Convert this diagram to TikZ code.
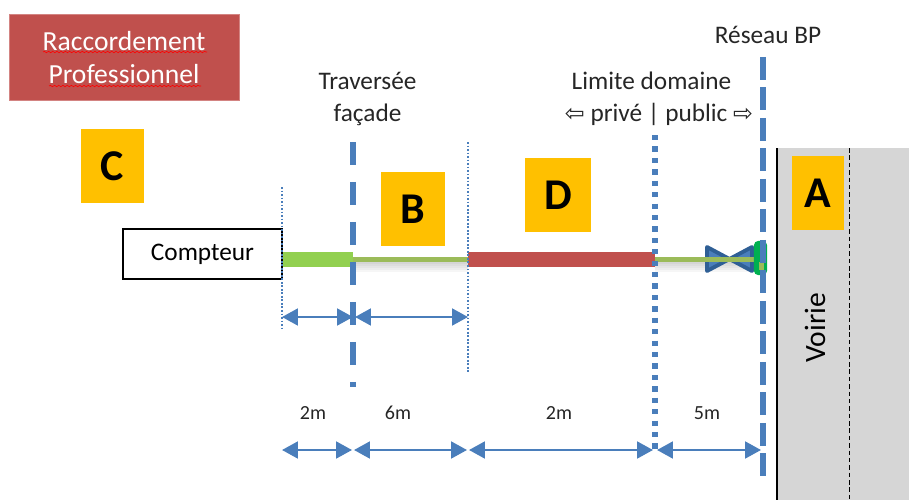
\documentclass[tikz,border=0pt]{standalone}
\usepackage{fontspec}
\setmainfont{Carlito}
\newfontfamily\symfont{DejaVu Sans}
\usetikzlibrary{arrows.meta}
\usetikzlibrary{decorations.pathmorphing}
\definecolor{tagYellow}{HTML}{FFC000}
\definecolor{lineBlue}{HTML}{4A7EBB}
\definecolor{barRed}{HTML}{C0504D}
\definecolor{barGreen}{HTML}{92D050}
\definecolor{barOlive}{HTML}{9BBB59}
\definecolor{roadGray}{HTML}{D6D6D6}
\definecolor{valveBlue}{HTML}{2F5F95}
\definecolor{joinGreen}{HTML}{00B050}
\tikzset
  {
    tagBox/.style={fill=tagYellow, font=\fontsize{25}{25}\selectfont\bfseries, inner sep=0pt, anchor=center},
    myLabel/.style={font=\fontsize{14.4}{17.8}\selectfont, align=center, text=black!85, inner sep=0pt},
    mySmall/.style={font=\fontsize{11.4}{13}\selectfont, text=black!85, inner sep=0pt},
    dimArrow/.style={lineBlue, line width=1.4pt, {Triangle[length=9pt,width=9.5pt]}-{Triangle[length=9pt,width=9.5pt]}},
    thinDots/.style={lineBlue, line width=0.7pt, dash pattern=on 1pt off 1pt},
    spellMark/.style={red, line width=0.35pt, decorate, decoration={snake,amplitude=0.4pt,segment length=2.4pt}}
  }

\begin{document}
\begin{tikzpicture}[x=0.02cm, y=-0.02cm]

\useasboundingbox (0,0) rectangle (909,500);

% road
\fill[roadGray] (778,148) rectangle (909,500);
\coordinate (roadA) at (777,148);
\coordinate (roadB) at (777,500);
\coordinate (edgeA) at (849,148);
\coordinate (edgeB) at (849,500);
\draw[black, line width=1.5pt] (roadA)--(roadB);
\draw[black, line width=0.4pt, dash pattern=on 2.6pt off 1.6pt] (edgeA)--(edgeB);
\node[font=\fontsize{16.8}{17}\selectfont, rotate=90, inner sep=0pt] (voirie) at (815,328) {Voirie};

% title
\node[fill=barRed, draw=barRed!70!white, line width=0.5pt, minimum width=130.9pt, minimum height=48.9pt, inner sep=0pt] (titre) at (124,57) {};
\node[font=\fontsize{15.7}{18.8}\selectfont, text=white, align=center, inner sep=0pt] (titreTxt) at (124,57.5) {Raccordement\\Professionnel};
\coordinate (markA) at (43,52);
\coordinate (markB) at (207,52);
\coordinate (markC) at (49,86);
\coordinate (markD) at (201,86);
\draw[spellMark] (markA)--(markB);
\draw[spellMark] (markC)--(markD);

% letters
\node[tagBox, minimum width=35.8pt, minimum height=42.1pt] (tagC) at (112.5,166) {C};
\node[tagBox, minimum width=36.4pt, minimum height=42.1pt] (tagB) at (413,209) {B};
\node[tagBox, minimum width=37.6pt, minimum height=42.1pt] (tagD) at (558,195) {D};
\node[tagBox, minimum width=29.6pt, minimum height=42.1pt] (tagA) at (818,193) {A};

% upper labels
\node[myLabel] (traversee) at (367.5,99) {Traversée\\façade};
\node[myLabel] (limiteHaut) at (651.5,81) {Limite domaine};
\node[myLabel] (limiteBas) at (659,114) {{\symfont\fontsize{13.5}{18}\selectfont ⇦} privé | public {\symfont\fontsize{13.5}{18}\selectfont ⇨}};
\node[myLabel] (reseau) at (768,35) {Réseau BP};

% shadow under the thin pipes
\foreach \x in {0,...,4}
{
\fill[black, opacity=0.035] (353,262) rectangle (468,272-2*\x);
\fill[black, opacity=0.035] (655,262) rectangle (757,272-2*\x);
}

% pipes
\fill[barGreen] (282,252) rectangle (353,267);
\fill[barOlive] (353,257) rectangle (468,262);
\fill[barRed] (468,252) rectangle (655,267);

\node[draw=black, line width=1.2pt, fill=white, minimum width=90.5pt, minimum height=28.5pt, inner sep=0pt, font=\fontsize{14.4}{17}\selectfont] (compteur) at (202.5,254) {Compteur};

% valve
\filldraw[fill=lineBlue, draw=valveBlue, line width=2.2pt, line join=round] (707,247)--(752,271)--(752,247)--(707,271)--cycle;
\fill[barOlive] (655,257) rectangle (755,262);

% connection
\node[fill=joinGreen, rounded corners=2.5pt, minimum width=7.5pt, minimum height=19.5pt, inner sep=0pt] (branchement) at (760.5,258) {};

% vertical lines
\coordinate (compteurA) at (282,187);
\coordinate (compteurB) at (282,329);
\coordinate (mur2A) at (468,142);
\coordinate (mur2B) at (468,373);
\coordinate (facadeA) at (353,142);
\coordinate (facadeB) at (353,387);
\coordinate (limiteA) at (655,135);
\coordinate (limiteB) at (655,449);
\coordinate (bpA) at (763,57);
\coordinate (bpB) at (763,476);
\draw[thinDots] (compteurA)--(compteurB);
\draw[thinDots] (mur2A)--(mur2B);
\draw[lineBlue, line width=3.2pt, dash pattern=on 13.1pt off 9.66pt] (facadeA)--(facadeB);
\draw[lineBlue, line width=3pt, dash pattern=on 3pt off 3.5pt] (limiteA)--(limiteB);
\fill[barOlive] (759,262) rectangle (764,270);
\draw[lineBlue, line width=3.8pt, dash pattern=on 13.1pt off 4.25pt] (bpA)--(bpB);

% arrows
\coordinate (hautA) at (282,317);
\coordinate (hautB) at (353,317);
\coordinate (hautC) at (355,317);
\coordinate (hautD) at (468,317);
\draw[dimArrow] (hautA)--(hautB);
\draw[dimArrow] (hautC)--(hautD);

\coordinate (basA) at (282,450);
\coordinate (basB) at (352,450);
\coordinate (basC) at (354,450);
\coordinate (basD) at (467,450);
\coordinate (basE) at (469,450);
\coordinate (basF) at (653,450);
\coordinate (basG) at (657,450);
\coordinate (basH) at (761,450);
\draw[dimArrow] (basA)--(basB);
\draw[dimArrow] (basC)--(basD);
\draw[dimArrow] (basE)--(basF);
\draw[dimArrow] (basG)--(basH);

\node[mySmall] (long1) at (313,413) {2m};
\node[mySmall] (long2) at (398,413) {6m};
\node[mySmall] (long3) at (559,413) {2m};
\node[mySmall] (long4) at (707,413) {5m};

\end{tikzpicture}
\end{document}
